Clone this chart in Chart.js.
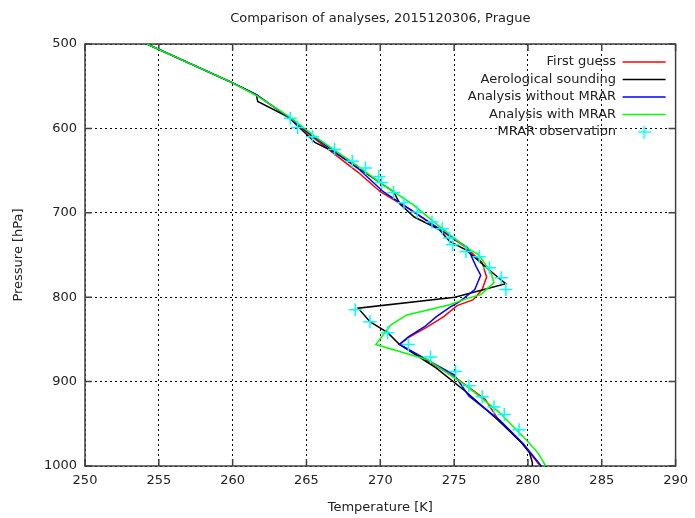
<!DOCTYPE html>
<html>
<head>
<meta charset="utf-8">
<script src="https://cdn.jsdelivr.net/npm/chart.js@4"></script>
<style>
  body { margin: 0; background: #fff; }
  #wrap { width: 695px; height: 518px; }
</style>
</head>
<body>
<div id="wrap"><canvas id="chart"></canvas></div>
<script>
const chartTitle = 'Comparison of analyses, 2015120306, Prague';
const seriesNames = ['First guess', 'Aerological sounding', 'Analysis without MRAR', 'Analysis with MRAR', 'MRAR observation'];
const xTicks = [250, 255, 260, 265, 270, 275, 280, 285, 290];
const yTicks = [500, 600, 700, 800, 900, 1000];

// first guess
const guessP = [500, 546, 560, 587, 610, 652, 675, 696, 741, 759, 776, 791, 803, 810, 823, 836, 848, 856, 894, 921, 945, 973, 999];
const guessT = [254.2, 260.0, 261.6, 263.8, 265.4, 268.5, 270.0, 272.0, 275.8, 276.9, 277.2, 276.9, 276.3, 275.2, 274.3, 273.1, 271.9, 271.3, 275.0, 277.1, 278.0, 279.6, 280.8];

// aerological sounding
const soundP = [500, 546, 560, 568, 587, 617, 628, 675, 690, 705, 720, 734, 744, 777, 784, 800, 813, 829, 842, 856, 884, 912, 946, 973, 984, 996, 1000];
const soundT = [254.2, 260.0, 261.6, 261.7, 263.8, 265.6, 266.9, 270.9, 271.35, 272.3, 274.0, 274.7, 275.8, 278.0, 278.5, 275.05, 268.5, 269.3, 270.5, 271.3, 273.8, 275.8, 278.0, 279.6, 280.1, 280.3, 280.3];

// analysis without MRAR
const noMrarP = [500, 546, 560, 587, 610, 649, 675, 698, 741, 764, 774, 791, 805, 812, 823, 835, 847, 856, 892, 917, 946, 974, 1000];
const noMrarT = [254.2, 260.0, 261.6, 263.8, 265.5, 268.6, 270.2, 272.2, 275.9, 276.5, 276.8, 276.4, 275.4, 274.7, 273.8, 273.0, 271.9, 271.3, 275.0, 276.0, 278.1, 279.7, 280.9];

// analysis with MRAR
const mrarP = [500, 546, 561, 587, 610, 645, 667, 690, 716, 741, 750, 771, 783, 797, 802, 809, 821, 833, 856, 874, 906, 937, 973, 985, 1000];
const mrarT = [254.2, 260.0, 261.6, 263.9, 265.6, 268.5, 270.2, 272.2, 274.0, 275.8, 276.7, 277.5, 277.7, 276.8, 275.8, 274.7, 271.8, 270.7, 269.7, 273.2, 275.9, 278.1, 280.1, 280.7, 281.2];

// MRAR observations
const obsP = [588, 599, 610, 625, 639, 647, 657, 664, 676, 688, 699, 711, 719, 730, 738, 746, 752, 765, 777, 791, 815, 829, 842, 856, 871, 888, 905, 918, 930, 939, 957];
const obsT = [263.9, 264.4, 265.4, 266.9, 268.1, 269.0, 269.9, 270.1, 270.9, 271.6, 272.5, 273.5, 274.2, 274.7, 274.9, 275.8, 276.7, 277.4, 278.2, 278.5, 268.3, 269.3, 270.5, 271.9, 273.4, 275.1, 276.0, 276.9, 277.7, 278.4, 279.4];

function toPoints(ts, ps) {
  return ts.map((t, i) => ({ x: t, y: ps[i] }));
}

function lineSet(label, ts, ps, color, order) {
  return {
    label: label,
    data: toPoints(ts, ps),
    showLine: true,
    borderColor: color,
    backgroundColor: color,
    borderWidth: 1.5,
    pointRadius: 0,
    tension: 0,
    order: order
  };
}

// small "+" for the legend entry
const crossIcon = document.createElement('canvas');
crossIcon.width = 13;
crossIcon.height = 13;
const cctx = crossIcon.getContext('2d');
cctx.strokeStyle = '#00ffff';
cctx.lineWidth = 1.5;
cctx.beginPath();
cctx.moveTo(6.5, 0); cctx.lineTo(6.5, 13);
cctx.moveTo(0, 6.5); cctx.lineTo(13, 6.5);
cctx.stroke();

const frame = {
  id: 'frame',
  beforeDatasetsDraw(chart) {
    const { ctx, chartArea: a, scales } = chart;
    const len = 7;
    ctx.save();
    ctx.strokeStyle = '#404040';
    ctx.lineWidth = 1.5;
    ctx.strokeRect(a.left, a.top, a.right - a.left, a.bottom - a.top);
    ctx.beginPath();
    xTicks.forEach(v => {
      const px = scales.x.getPixelForValue(v);
      ctx.moveTo(px, a.bottom); ctx.lineTo(px, a.bottom - len);
      ctx.moveTo(px, a.top); ctx.lineTo(px, a.top + len);
    });
    yTicks.forEach(v => {
      const py = scales.y.getPixelForValue(v);
      ctx.moveTo(a.left, py); ctx.lineTo(a.left + len, py);
      ctx.moveTo(a.right, py); ctx.lineTo(a.right - len, py);
    });
    ctx.stroke();
    ctx.restore();
  }
};

// move the legend to the top right corner inside the plot
const legendPlacer = {
  id: 'legendPlacer',
  afterLayout(chart) {
    const legend = chart.legend;
    const a = chart.chartArea;
    const pad = legend.options.labels.padding;
    legend.left = a.right - 10 + pad - legend.width;
    legend.right = legend.left + legend.width;
    legend.top = a.top + 18 - 6.5 - pad;
    legend.bottom = a.bottom;
  }
};

Chart.defaults.font.family = 'DejaVu Sans';
Chart.defaults.font.size = 13;
Chart.defaults.color = '#222';

const ctx = document.getElementById('chart').getContext('2d');
const chart = new Chart(ctx, {
  type: 'scatter',
  data: {
    datasets: [
      lineSet(seriesNames[0], guessT, guessP, '#ff0000', 5),
      lineSet(seriesNames[1], soundT, soundP, '#000000', 4),
      lineSet(seriesNames[2], noMrarT, noMrarP, '#0000ff', 3),
      lineSet(seriesNames[3], mrarT, mrarP, '#00ff00', 2),
      {
        label: seriesNames[4],
        data: toPoints(obsT, obsP),
        showLine: false,
        pointStyle: 'cross',
        pointRadius: 6.5,
        pointBorderWidth: 1.5,
        borderColor: '#00ffff',
        backgroundColor: '#00ffff',
        order: 1
      }
    ]
  },
  options: {
    responsive: true,
    maintainAspectRatio: false,
    animation: false,
    layout: { padding: { left: 0, right: 13, top: 0, bottom: 0 } },
    plugins: {
      tooltip: { enabled: false },
      title: { display: false },
      legend: {
        position: 'chartArea',
        align: 'start',
        rtl: true,
        textDirection: 'ltr',
        labels: {
          usePointStyle: true,
          pointStyleWidth: 43,
          padding: 4.5,
          color: '#222',
          sort: (a, b) => a.datasetIndex - b.datasetIndex,
          generateLabels: function(chart) {
            const items = Chart.defaults.plugins.legend.labels.generateLabels(chart);
            items.forEach(item => {
              const ds = chart.data.datasets[item.datasetIndex];
              item.strokeStyle = ds.borderColor;
              item.fillStyle = ds.borderColor;
              item.lineWidth = 1.5;
              item.pointStyle = item.datasetIndex === 4 ? crossIcon : 'line';
            });
            return items;
          }
        }
      }
    },
    scales: {
      x: {
        type: 'linear',
        min: 250,
        max: 290,
        afterBuildTicks: scale => { scale.ticks = xTicks.map(v => ({ value: v })); },
        ticks: { padding: 7, callback: v => String(v) },
        grid: { color: '#000', lineWidth: 1, drawTicks: false },
        border: { display: false, dash: [2, 3] },
        title: { display: true, text: 'Temperature [K]', padding: { top: 0, bottom: 2.2 } },
        afterFit: scale => { scale.height = 52; }
      },
      // top axis only carries the title, centred over the plot
      top: {
        type: 'linear',
        position: 'top',
        min: 250,
        max: 290,
        ticks: { display: false },
        grid: { display: false, drawTicks: false },
        border: { display: false },
        title: { display: true, text: chartTitle, padding: { top: 11, bottom: 0 } },
        afterFit: scale => { scale.height = 44; }
      },
      y: {
        type: 'linear',
        min: 500,
        max: 1000,
        reverse: true,
        afterBuildTicks: scale => { scale.ticks = yTicks.map(v => ({ value: v })); },
        ticks: { padding: 8, callback: v => String(v) },
        grid: { color: '#000', lineWidth: 1, drawTicks: false },
        border: { display: false, dash: [2, 3] },
        title: { display: true, text: 'Pressure [hPa]', padding: { top: 10.7, bottom: 0 } },
        afterFit: scale => { scale.width = 85; }
      }
    }
  },
  plugins: [frame, legendPlacer]
});
</script>
</body>
</html>
